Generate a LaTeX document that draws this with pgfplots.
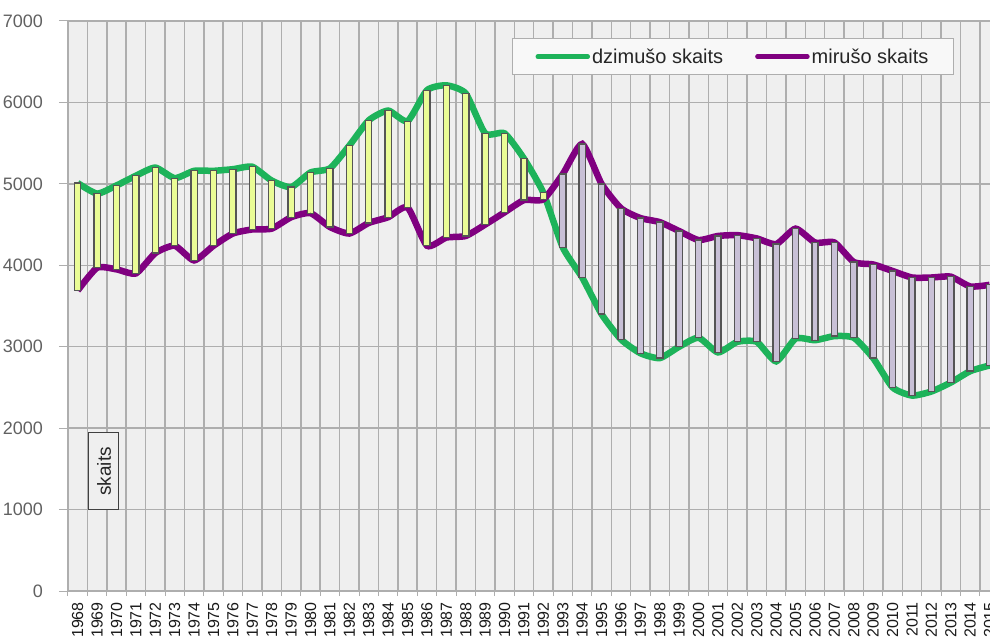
\documentclass[border=0pt]{standalone}
\usepackage{pgfplots}
\pgfplotsset{compat=1.18}
\usepackage{pgfplotstable}
\usepackage{fontspec}
\setmainfont{Liberation Sans}
\definecolor{gline}{HTML}{1DB35A}
\definecolor{pline}{HTML}{800080}
\definecolor{upfill}{HTML}{EAFC96}
\definecolor{downfill}{HTML}{C8C0D6}
\definecolor{bgc}{HTML}{EFEFEF}
\definecolor{gridc}{HTML}{AEAEAE}
\definecolor{barb}{HTML}{555555}

\pgfplotstableread{
x year b d
0 1968 5010 3690
1 1969 4880 3970
2 1970 4980 3950
3 1971 5100 3900
4 1972 5200 4150
5 1973 5070 4240
6 1974 5160 4060
7 1975 5160 4240
8 1976 5180 4390
9 1977 5210 4440
10 1978 5040 4450
11 1979 4960 4590
12 1980 5140 4640
13 1981 5190 4470
14 1982 5470 4390
15 1983 5780 4520
16 1984 5900 4590
17 1985 5770 4710
18 1986 6150 4240
19 1987 6210 4340
20 1988 6110 4360
21 1989 5620 4500
22 1990 5620 4650
23 1991 5310 4800
24 1992 4890 4810
25 1993 4220 5120
26 1994 3850 5490
27 1995 3400 5000
28 1996 3090 4700
29 1997 2920 4580
30 1998 2860 4530
31 1999 3000 4420
32 2000 3110 4310
33 2001 2930 4360
34 2002 3060 4370
35 2003 3060 4330
36 2004 2820 4260
37 2005 3100 4450
38 2006 3080 4280
39 2007 3130 4280
40 2008 3110 4040
41 2009 2860 4010
42 2010 2500 3930
43 2011 2400 3850
44 2012 2450 3850
45 2013 2560 3860
46 2014 2700 3740
47 2015 2770 3760
}\data

\begin{document}
\begin{tikzpicture}
\begin{axis}[name=ax, at={(0,0)}, anchor=south west,
  scale only axis, width=922pt, height=570pt,
  xmin=-0.5, xmax=47.02, ymin=0, ymax=7000,
  axis background/.style={fill=bgc},
  axis x line=bottom, axis y line=left,
  axis line style={gridc, line width=1.5pt, -},
  xtick={0,...,47},
  xticklabel={\pgfmathtruncatemacro\yr{\tick+1968}\yr},
  minor xtick={-0.5,0.5,...,46.5},
  xminorgrids, ymajorgrids,
  grid style={gridc, line width=1.5pt},
  minor grid style={gridc, line width=1.5pt},
  major x tick style={draw=none},
  minor tick length=5pt,
  ytick={0,1000,...,7000},
  major tick length=9pt,
  tick align=outside,
  tick style={gridc, line width=1pt},
  /pgf/number format/assume math mode=true,
  /pgf/number format/set thousands separator={},
  xticklabel style={yshift=-2pt, rotate=90, anchor=east, inner sep=0pt,
    font=\fontsize{16}{16}\selectfont, text=black!90},
  yticklabel style={anchor=east, inner sep=0pt, xshift=-16pt,
    font=\fontsize{18}{18}\selectfont, text=black!62},
  legend columns=2,
  legend style={at={(axis description cs:0.4816,0.970)}, anchor=north west,
    draw=gridc, line width=1pt, fill=white!55!bgc,
    font=\fontsize{20}{20}\selectfont, text=black!85,
    inner xsep=23pt, inner ysep=8pt,
    /tikz/every even column/.append style={column sep=30pt}},
  legend image code/.code={\draw[#1, line width=4.5pt, line cap=round] (0pt,0pt) -- (50pt,0pt);},
]
\addplot[gline, line width=6.5pt, smooth, tension=0.35] table[x=x, y=b]{\data};
\addlegendentry{dzimušo skaits}
\addplot[pline, line width=6.5pt, smooth, tension=0.35] table[x=x, y=d]{\data};
\addlegendentry{mirušo skaits}

\addplot[forget plot, barb, scatter, only marks, mark=*, mark size=0.3pt,
  restrict x to domain=0:24,
  visualization depends on={\thisrow{b}-\thisrow{d} \as \h},
  scatter/@pre marker code/.code={\draw[draw=barb, line width=1.3pt, fill=upfill] (axis direction cs:-0.16,0) rectangle (axis direction cs:0.16,\h);},
  scatter/@post marker code/.code={}]
  table[x=x, y=d]{\data};
\addplot[forget plot, barb, scatter, only marks, mark=*, mark size=0.3pt,
  restrict x to domain=25:47,
  visualization depends on={\thisrow{d}-\thisrow{b} \as \h},
  scatter/@pre marker code/.code={\draw[draw=barb, line width=1.3pt, fill=downfill] (axis direction cs:-0.16,0) rectangle (axis direction cs:0.16,\h);},
  scatter/@post marker code/.code={}]
  table[x=x, y=b]{\data};

\node[draw=black!75, line width=1pt, fill=bgc, rotate=90, inner sep=0pt,
  minimum width=77pt, minimum height=30pt, text=black!85,
  font=\fontsize{19}{19}\selectfont] at (axis cs:1.355,1468) {skaits};
\end{axis}
\pgfresetboundingbox
\path[use as bounding box] ([xshift=-68pt,yshift=-49pt]ax.south west) rectangle ([yshift=21pt]ax.north east);
\end{tikzpicture}
\end{document}
